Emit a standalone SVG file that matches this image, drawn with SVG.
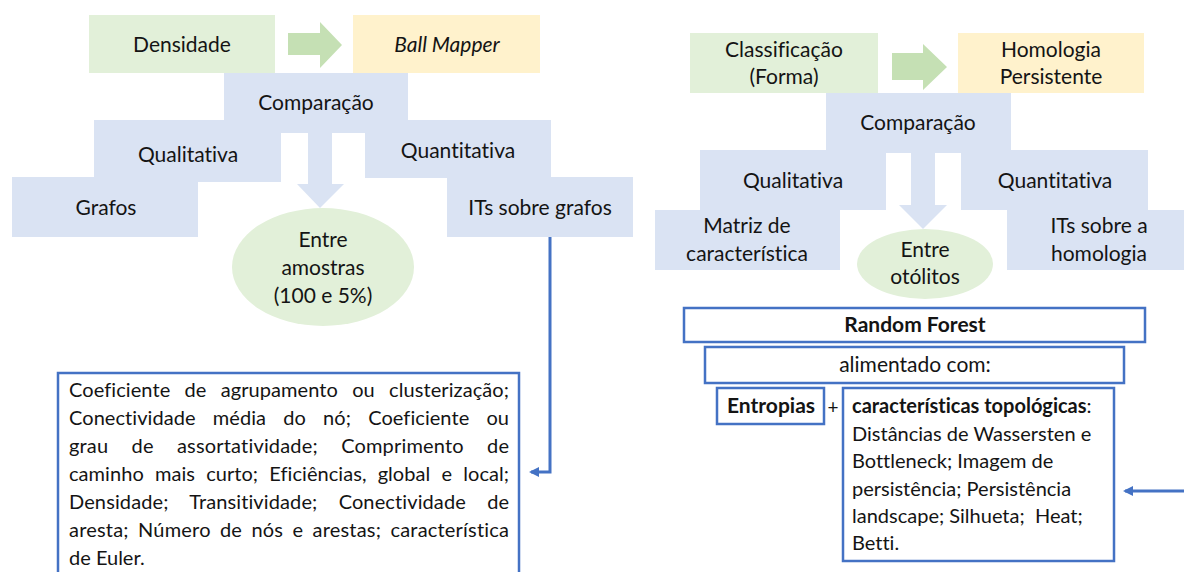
<svg xmlns="http://www.w3.org/2000/svg" width="1184" height="572" viewBox="0 0 1184 572">
<style>
text{font-family:Lato,"Open Sans","Liberation Sans",sans-serif;fill:#141414;font-variant-ligatures:none;font-feature-settings:"liga" 0,"clig" 0,"dlig" 0}
.lb{font-size:21px;text-anchor:middle}
.bd{font-size:20px}
.blue{fill:#dae3f3}
.green{fill:#e2f0d9}
.orange{fill:#fff2cc}
.garrow{fill:#c5e0b4}
.out{fill:#fff;stroke:#4472c4;stroke-width:2.5}
.conn{fill:none;stroke:#4472c4;stroke-width:3}
</style>
<defs>
<marker id="ah" markerWidth="10" markerHeight="10" refX="8" refY="5" orient="auto" markerUnits="userSpaceOnUse">
<path d="M0,0 L10,5 L0,10 Z" fill="#4472c4"/>
</marker>
</defs>
<rect width="1184" height="572" fill="#fff"/>

<!-- LEFT -->
<g id="densidade"><rect class="green" x="89" y="15" width="186" height="58"/><text class="lb" x="182" y="52">Densidade</text></g>
<g id="arrow-left-top"><path class="garrow" d="M288,33 H320 V22 L342,45 L320,68 V55 H288 Z"/></g>
<g id="ballmapper"><rect class="orange" x="353" y="15" width="187" height="58"/><text class="lb" x="447" y="52" font-style="italic">Ball Mapper</text></g>
<g id="comparacao-l"><rect class="blue" x="224" y="73" width="184" height="60"/><text class="lb" x="316" y="110">Comparação</text></g>
<g id="qualitativa-l"><rect class="blue" x="94" y="120" width="187" height="62"/><text class="lb" x="188" y="162">Qualitativa</text></g>
<g id="quantitativa-l"><rect class="blue" x="365" y="120" width="186" height="58"/><text class="lb" x="458" y="158">Quantitativa</text></g>
<g id="down-arrow-l"><path class="blue" d="M308,133 H332 V184 H344 L320,208 L297,184 H308 Z"/></g>
<g id="grafos"><rect class="blue" x="12" y="177" width="186" height="60"/><text class="lb" x="106" y="215">Grafos</text></g>
<g id="its-grafos"><rect class="blue" x="447" y="177" width="186" height="60"/><text class="lb" x="540" y="215">ITs sobre grafos</text></g>
<g id="entre-amostras"><ellipse class="green" cx="323" cy="267" rx="91" ry="59"/>
<text class="lb" x="323" y="247">Entre</text><text class="lb" x="323" y="275">amostras</text><text class="lb" x="323" y="303">(100 e 5%)</text></g>
<g id="metricas-grafos"><rect class="out" x="58" y="373" width="461" height="210"/>
<text class="bd" x="69" y="397" word-spacing="9" textLength="440" lengthAdjust="spacing">Coeficiente de agrupamento ou clusterização;</text>
<text class="bd" x="69" y="425" word-spacing="12" textLength="440" lengthAdjust="spacing">Conectividade média do nó; Coeficiente ou</text>
<text class="bd" x="69" y="453" word-spacing="18" textLength="440" lengthAdjust="spacing">grau de assortatividade; Comprimento de</text>
<text class="bd" x="69" y="481" word-spacing="6" textLength="440" lengthAdjust="spacing">caminho mais curto; Eficiências, global e local;</text>
<text class="bd" x="69" y="509" word-spacing="16" textLength="440" lengthAdjust="spacing">Densidade; Transitividade; Conectividade de</text>
<text class="bd" x="69" y="537" word-spacing="4" textLength="440" lengthAdjust="spacing">aresta; Número de nós e arestas; característica</text>
<text class="bd" x="69" y="565">de Euler.</text></g>

<!-- RIGHT -->
<g id="classificacao"><rect class="green" x="690" y="33" width="188" height="60"/><text class="lb" x="784" y="57">Classificação</text><text class="lb" x="784" y="84">(Forma)</text></g>
<g id="arrow-right-top"><path class="garrow" d="M892,53 H923 V44 L947,67 L923,90 V80 H892 Z"/></g>
<g id="homologia"><rect class="orange" x="958" y="33" width="186" height="60"/><text class="lb" x="1051" y="57">Homologia</text><text class="lb" x="1051" y="84">Persistente</text></g>
<g id="comparacao-r"><rect class="blue" x="826" y="93" width="185" height="60"/><text class="lb" x="918" y="130">Comparação</text></g>
<g id="qualitativa-r"><rect class="blue" x="700" y="150" width="186" height="60"/><text class="lb" x="793" y="188">Qualitativa</text></g>
<g id="quantitativa-r"><rect class="blue" x="961" y="150" width="187" height="60"/><text class="lb" x="1055" y="188">Quantitativa</text></g>
<g id="down-arrow-r"><path class="blue" d="M911,153 H935 V205 H947 L923,229 L899,205 H911 Z"/></g>
<g id="matriz"><rect class="blue" x="655" y="210" width="185" height="60"/><text class="lb" x="747" y="233">Matriz de</text><text class="lb" x="747" y="261">característica</text></g>
<g id="its-homologia"><rect class="blue" x="1007" y="210" width="177" height="60"/><text class="lb" x="1099" y="233">ITs sobre a</text><text class="lb" x="1099" y="261">homologia</text></g>
<g id="entre-otolitos"><ellipse class="green" cx="925" cy="264" rx="68" ry="35"/><text class="lb" x="925" y="257">Entre</text><text class="lb" x="925" y="284">otólitos</text></g>
<g id="random-forest"><rect class="out" x="684" y="308" width="461" height="34"/><text class="lb" x="915" y="332" font-weight="bold" font-size="19">Random Forest</text></g>
<g id="alimentado"><rect class="out" x="705" y="347" width="419" height="36"/><text class="lb" x="915" y="372" font-size="19">alimentado com:</text></g>
<g id="entropias"><rect class="out" x="717" y="388" width="107" height="36"/><text class="lb" x="771" y="413" font-weight="bold" font-size="19">Entropias</text></g>
<text x="833" y="414" font-size="19" text-anchor="middle">+</text>
<g id="caracteristicas"><rect class="out" x="843" y="388" width="271" height="173"/>
<text class="bd" x="852" y="413"><tspan font-weight="bold">características topológicas</tspan>:</text>
<text class="bd" x="852" y="441">Distâncias de Wassersten e</text>
<text class="bd" x="852" y="468">Bottleneck; Imagem de</text>
<text class="bd" x="852" y="496">persistência; Persistência</text>
<text class="bd" x="852" y="523" xml:space="preserve">landscape; Silhueta;  Heat;</text>
<text class="bd" x="852" y="550">Betti.</text></g>

<g id="connectors">
<path class="conn" d="M550,237 V472 H531" marker-end="url(#ah)"/>
<path class="conn" d="M1184,491 H1125" marker-end="url(#ah)"/>
</g>
</svg>
